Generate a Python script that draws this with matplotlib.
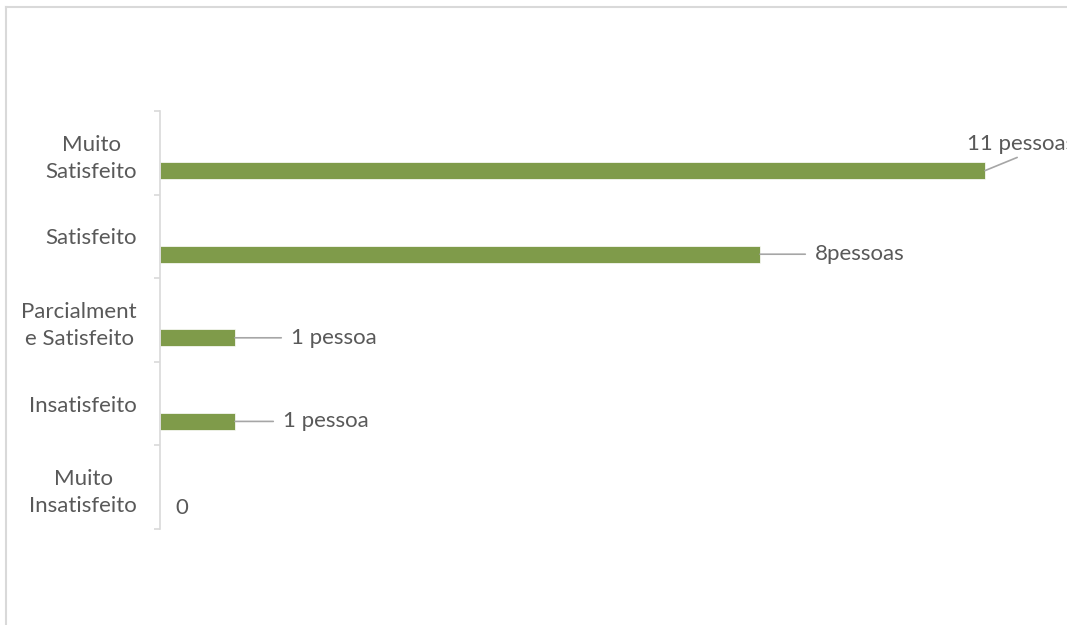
import matplotlib
matplotlib.use("Agg")
import matplotlib.pyplot as plt
from matplotlib.lines import Line2D

categories = ["Muito\nSatisfeito", "Satisfeito", "Parcialment\ne Satisfeito",
              "Insatisfeito", "Muito\nInsatisfeito"]
values = [11, 8, 1, 1, 0]
labels = ["11 pessoas", "8pessoas", "1 pessoa", "1 pessoa", "0"]

# label offsets in pixels from the bar end (dx, dy) and whether a leader line is drawn
label_offsets = [(-18, 27), (55, 0), (56, 0), (48, 0), (15, -3)]
leaders = [True, True, True, True, False]

plt.rcParams['font.family'] = ['Lato', 'DejaVu Sans']
txt = '#595959'
green = '#7f9b4a'
fs = 16

fig = plt.figure(figsize=(10.67, 6.25), dpi=100, facecolor='white')
ax = fig.add_axes([160 / 1067, 1 - 529 / 625, 900 / 1067, 418 / 625])

n = len(categories)
bar_off = 0.713
bar_h = 0.204
ypos = [i + bar_off for i in range(n)]
ax.barh(ypos, values, height=bar_h, color=green, edgecolor='white', linewidth=0.5)

ax.set_xlim(0, 12)
ax.set_ylim(n, 0)
ax.set_yticks([i + 0.5 for i in range(n)])
ax.set_yticklabels(categories, fontsize=fs, color=txt)
for t in ax.get_yticklabels():
    t.set_multialignment('center')
    t.set_linespacing(1.45)
ax.tick_params(axis='y', which='major', length=0, pad=16.5)
ax.set_yticks(list(range(n + 1)), minor=True)
ax.tick_params(axis='y', which='minor', length=4.5, color='#d9d9d9', width=1.2)
ax.set_xticks([])
for s in ['top', 'right', 'bottom']:
    ax.spines[s].set_visible(False)
ax.spines['left'].set_color('#d9d9d9')
ax.spines['left'].set_linewidth(1.2)

for i, (v, lab) in enumerate(zip(values, labels)):
    dx, dy = label_offsets[i]
    if leaders[i]:
        ax.annotate(lab, xy=(v, ypos[i]), xytext=(dx, dy), textcoords='offset pixels',
                    ha='left', va='center', fontsize=fs, color=txt,
                    arrowprops=dict(arrowstyle='-', color='#a6a6a6', lw=1.2,
                                    shrinkA=5 if i else 2, shrinkB=0,
                                    relpos=(0, 0.5) if i else (0.55, 0.0)),
                    annotation_clip=False)
    else:
        ax.annotate(lab, xy=(v, ypos[i]), xytext=(dx, dy), textcoords='offset pixels',
                    ha='left', va='center', fontsize=fs, color=txt)

# chart area border (left and top visible)
fig.add_artist(Line2D([6 / 1067, 6 / 1067], [0, 1 - 7 / 625], color='#d9d9d9', lw=1.5,
                      transform=fig.transFigure))
fig.add_artist(Line2D([6 / 1067, 1], [1 - 7 / 625, 1 - 7 / 625], color='#d9d9d9', lw=1.5,
                      transform=fig.transFigure))

fig.savefig('out.png', dpi=100, facecolor='white')
